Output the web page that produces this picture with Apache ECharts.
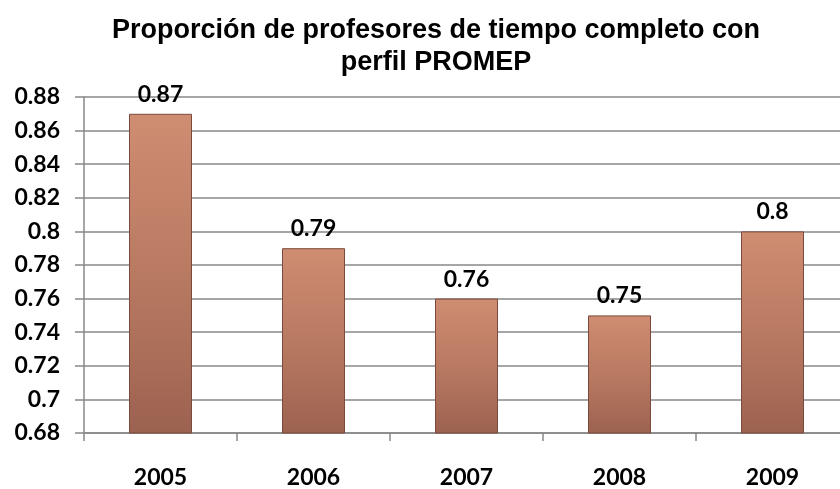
<!DOCTYPE html>
<html>
<head>
<meta charset="utf-8">
<script src="https://cdn.jsdelivr.net/npm/echarts@6/dist/echarts.min.js"></script>
<style>
  html, body { margin: 0; padding: 0; background: #fff; overflow: hidden; }
  /* the plot area runs a little past the right edge of the picture */
  #chart { width: 850px; height: 489px; }
</style>
</head>
<body>
<div id="chart"></div>
<script>
const years = ['2005', '2006', '2007', '2008', '2009']
const proportions = [0.87, 0.79, 0.76, 0.75, 0.8]
const titleLines = ['Proporción de profesores de tiempo completo con', 'perfil PROMEP']

const chart = echarts.init(document.getElementById('chart'))
const labelFont = 'Lato, "Open Sans", sans-serif'

chart.setOption({
  backgroundColor: '#ffffff',
  animation: false,
  title: {
    text: titleLines.join('\n'),
    left: 431,
    textAlign: 'center',
    top: 10,
    textStyle: {
      fontFamily: '"Liberation Sans", Arial, sans-serif',
      fontSize: 27,
      fontWeight: 'bold',
      color: '#000',
      lineHeight: 32
    }
  },
  grid: {
    left: 84,
    right: 1,
    top: 97,
    bottom: 54
  },
  xAxis: {
    type: 'category',
    data: years,
    axisLine: { lineStyle: { color: '#888', width: 1.5 } },
    axisTick: { show: true, length: 8, lineStyle: { color: '#888', width: 1.5 } },
    axisLabel: {
      margin: 33,
      fontFamily: labelFont,
      fontSize: 23,
      fontWeight: 'bold',
      color: '#000'
    }
  },
  yAxis: {
    type: 'value',
    min: 0.68,
    max: 0.88,
    interval: 0.02,
    axisLine: { show: true, lineStyle: { color: '#888', width: 1.5 } },
    axisTick: { show: true, length: 9, lineStyle: { color: '#888', width: 1.5 } },
    splitLine: { lineStyle: { color: '#888', width: 1.5 } },
    axisLabel: {
      margin: 24,
      fontFamily: labelFont,
      fontSize: 23,
      fontWeight: 'bold',
      color: '#000',
      formatter: v => String(parseFloat(v.toFixed(2)))
    }
  },
  series: [{
    type: 'bar',
    data: proportions,
    barWidth: 63,
    itemStyle: {
      color: new echarts.graphic.LinearGradient(0, 0, 0, 1, [
        { offset: 0, color: '#cf8d72' },
        { offset: 0.5, color: '#b97a62' },
        { offset: 1, color: '#9c6250' }
      ]),
      borderColor: '#7a4a3c',
      borderWidth: 1
    },
    label: {
      show: true,
      position: 'top',
      distance: 8,
      fontFamily: labelFont,
      fontSize: 23,
      fontWeight: 'bold',
      color: '#000'
    }
  }]
})
</script>
</body>
</html>
